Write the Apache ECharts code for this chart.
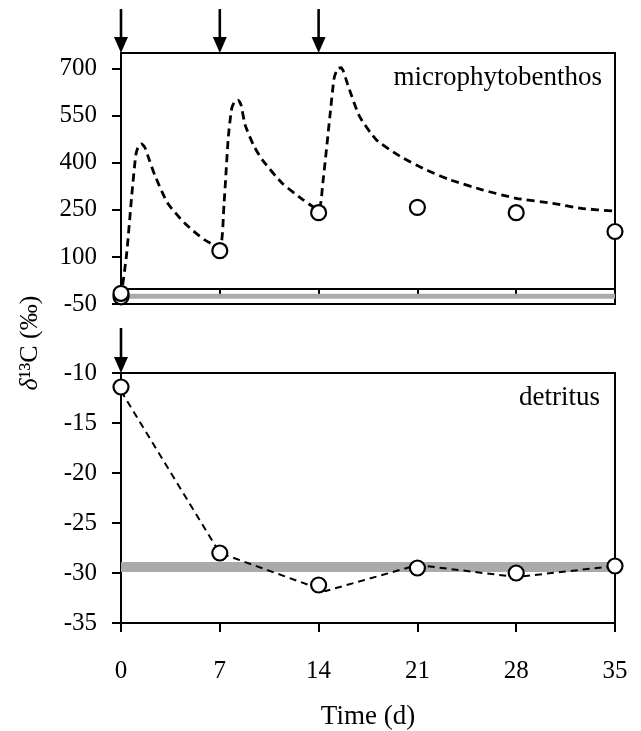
<!DOCTYPE html>
<html><head><meta charset="utf-8">
<script src="https://cdn.jsdelivr.net/npm/echarts@6/dist/echarts.min.js"></script>
<style>html,body{margin:0;padding:0;background:#fff}#c{width:641px;height:731px}</style>
</head><body><div id="c"></div>
<script>
// ---- data ----
const dayTicks = [0, 7, 14, 21, 28, 35];
const mpbYTicks = [-50, 100, 250, 400, 550, 700];
const detYTicks = [-35, -30, -25, -20, -15, -10];

// microphytobenthos observations
const mpbObsT = [0, 0, 7, 14, 21, 28, 35];
const mpbObsV = [-27, -16, 120, 241, 258, 241, 181];
// microphytobenthos model (dashed)
const mpbModelT = [0, 0.4, 0.75, 1.05, 1.25, 1.45, 1.7, 2.0, 2.4, 3.3, 4.5, 5.9, 7.0, 7.3, 7.6, 7.85, 8.1, 8.3, 8.5, 8.8, 9.4, 10.0, 11.4, 12.9, 14.0, 14.3, 14.8, 15.1, 15.35, 15.6, 16.1, 16.9, 18.1, 19.8, 21.6, 23.3, 25.6, 28.0, 30.6, 32.6, 35];
const mpbModelV = [-30, 110, 290, 425, 455, 460, 448, 410, 360, 272, 208, 155, 130, 270, 480, 575, 598, 600, 585, 520, 455, 410, 336, 282, 250, 336, 548, 670, 700, 703, 644, 548, 473, 420, 378, 346, 314, 287, 271, 255, 246];
const mpbBand = [-33, -17];

// detritus observations
const detObsT = [0, 7, 14, 21, 28, 35];
const detObsV = [-11.4, -28.0, -31.2, -29.5, -30.0, -29.3];
// detritus model (dashed)
const detModelT = [0, 7, 14.5, 21, 28, 35];
const detModelV = [-11.8, -28.0, -31.8, -29.2, -30.4, -29.3];
const detBand = [-29.9, -28.9];

// label pulses (arrows): day, arrow start value, arrow end value
const pulseTopDays = [0, 7, 14];
const pulseTopFrom = [890, 890, 890];
const pulseTopTo = [750, 750, 750];
const pulseBotDays = [0];
const pulseBotFrom = [-5.5];
const pulseBotTo = [-10];

// ---- chart ----
const FONT = "'Liberation Serif','Times New Roman',serif";
const chart = echarts.init(document.getElementById('c'), null, {renderer: 'canvas'});
const zip = (a, b) => a.map((v, i) => [v, b[i]]);
const zip3 = (a, b, c) => a.map((v, i) => [v, b[i], c[i]]);

function arrowRender(params, api) {
  const d = api.value(0);
  const p0 = api.coord([d, api.value(1)]);
  const p1 = api.coord([d, api.value(2)]);
  const headL = 16, headW = 7;
  return {
    type: 'group',
    children: [
      {type: 'line', shape: {x1: p0[0], y1: p0[1], x2: p1[0], y2: p1[1] - headL + 2},
       style: {stroke: '#000', lineWidth: 2.6}},
      {type: 'polygon', shape: {points: [[p1[0] - headW, p1[1] - headL], [p1[0] + headW, p1[1] - headL], [p1[0], p1[1]]]},
       style: {fill: '#000'}}
    ]
  };
}

const axisLineStyle = {color: '#000', width: 2};
const tickLabel = {color: '#000', fontFamily: FONT, fontSize: 25};

const option = {
  animation: false,
  backgroundColor: '#fff',
  grid: [
    {left: 121, top: 53, width: 494, height: 251, show: true, borderColor: '#000', borderWidth: 2, backgroundColor: 'transparent'},
    {left: 121, top: 373, width: 494, height: 251, show: true, borderColor: '#000', borderWidth: 2, backgroundColor: 'transparent'}
  ],
  xAxis: [
    {gridIndex: 0, type: 'value', min: 0, max: 35, interval: 7,
     axisLine: {lineStyle: axisLineStyle}, axisTick: {length: 9, lineStyle: axisLineStyle},
     axisLabel: {show: false}, splitLine: {show: false}},
    {gridIndex: 1, type: 'value', min: 0, max: 35, interval: 7,
     axisLine: {lineStyle: axisLineStyle}, axisTick: {length: 9, lineStyle: axisLineStyle},
     axisLabel: Object.assign({margin: 36, customValues: dayTicks}, tickLabel), splitLine: {show: false},
     name: 'Time (d)', nameLocation: 'middle', nameGap: 80,
     nameTextStyle: {color: '#000', fontFamily: FONT, fontSize: 27}}
  ],
  yAxis: [
    {gridIndex: 0, type: 'value', min: -50, max: 750, interval: 150,
     axisLine: {lineStyle: axisLineStyle},
     axisTick: {length: 9, lineStyle: axisLineStyle, customValues: mpbYTicks},
     axisLabel: Object.assign({margin: 24, customValues: mpbYTicks}, tickLabel), splitLine: {show: false}},
    {gridIndex: 1, type: 'value', min: -35, max: -10, interval: 5,
     axisLine: {lineStyle: axisLineStyle},
     axisTick: {length: 9, lineStyle: axisLineStyle, customValues: detYTicks},
     axisLabel: Object.assign({margin: 24, customValues: detYTicks}, tickLabel), splitLine: {show: false}}
  ],
  graphic: [
    {type: 'text', right: 39, top: 64, style: {text: 'microphytobenthos', fill: '#000', font: '27px ' + FONT}},
    {type: 'text', right: 41, top: 384, style: {text: 'detritus', fill: '#000', font: '27px ' + FONT}},
    {type: 'text', x: 30, y: 343, rotation: Math.PI / 2,
     style: {text: '{d|δ}¹³C (‰)', fill: '#000', fontFamily: FONT, fontSize: 26, align: 'center', verticalAlign: 'middle',
             rich: {d: {fontStyle: 'italic', fontFamily: FONT, fontSize: 26, fill: '#000'}}}}
  ],
  series: [
    {type: 'line', xAxisIndex: 0, yAxisIndex: 0, data: zip(mpbModelT, mpbModelV), showSymbol: false, smooth: 0.2,
     lineStyle: {color: '#000', width: 2.8, type: [8, 5]}, z: 3, silent: true,
     markArea: {silent: true, itemStyle: {color: '#aaaaaa'}, data: [[{yAxis: mpbBand[0]}, {yAxis: mpbBand[1]}]]}},
    {type: 'scatter', xAxisIndex: 0, yAxisIndex: 0, data: zip(mpbObsT, mpbObsV), symbol: 'circle', symbolSize: 15,
     itemStyle: {color: '#fff', borderColor: '#000', borderWidth: 2.2, opacity: 1}, z: 5, clip: false, silent: true},
    {type: 'line', xAxisIndex: 1, yAxisIndex: 1, data: zip(detModelT, detModelV), showSymbol: false,
     lineStyle: {color: '#000', width: 2, type: [7, 5]}, z: 3, silent: true,
     markArea: {silent: true, itemStyle: {color: '#aaaaaa'}, data: [[{yAxis: detBand[0]}, {yAxis: detBand[1]}]]}},
    {type: 'scatter', xAxisIndex: 1, yAxisIndex: 1, data: zip(detObsT, detObsV), symbol: 'circle', symbolSize: 15,
     itemStyle: {color: '#fff', borderColor: '#000', borderWidth: 2.2, opacity: 1}, z: 5, clip: false, silent: true},
    {type: 'custom', xAxisIndex: 0, yAxisIndex: 0, data: zip3(pulseTopDays, pulseTopFrom, pulseTopTo),
     renderItem: arrowRender, clip: false, silent: true, z: 6},
    {type: 'custom', xAxisIndex: 1, yAxisIndex: 1, data: zip3(pulseBotDays, pulseBotFrom, pulseBotTo),
     renderItem: arrowRender, clip: false, silent: true, z: 6}
  ]
};
chart.setOption(option);
</script>
</body></html>
